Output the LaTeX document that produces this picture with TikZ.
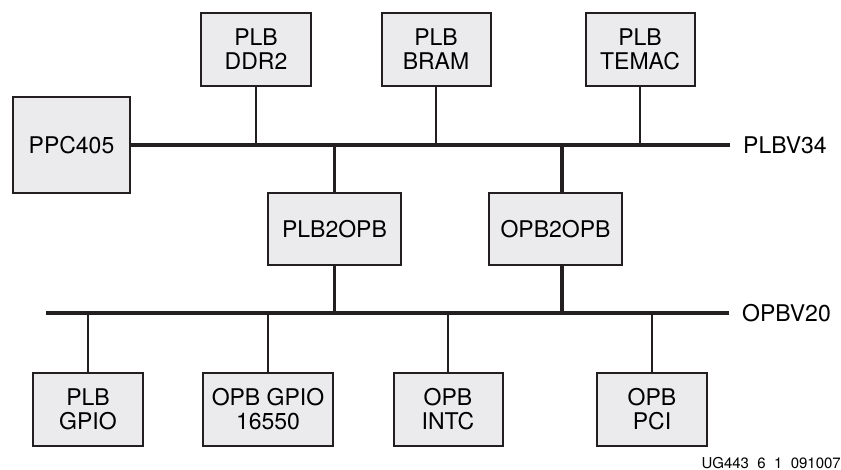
\documentclass[tikz,border=0pt]{standalone}
\usepackage{fontspec}
\setmainfont{TeX Gyre Heros}
\definecolor{boxfill}{RGB}{235,235,237}
\definecolor{linecol}{RGB}{35,31,32}
\begin{document}
\begin{tikzpicture}[x=1pt, y=-1pt,
  core/.style={draw=linecol, line width=2pt, fill=boxfill, inner sep=0pt, align=center, font=\fontsize{23}{24}\selectfont},
  busline/.style={draw=linecol, line width=4pt},
  stub/.style={draw=linecol, line width=1.7pt},
  bridge/.style={draw=linecol, line width=3.6pt},
  buslabel/.style={anchor=west, inner sep=0pt, font=\fontsize{23}{24}\selectfont}]
\useasboundingbox (0,0) rectangle (841,470);
% processor and PLB peripherals
\node (ppc) [core, minimum width=117pt, minimum height=96pt] at (71.5,145) {PPC405};
\node (ddr) [core, minimum width=110pt, minimum height=73pt] at (256,49.5) {PLB\\DDR2};
\node (bram) [core, minimum width=109pt, minimum height=73pt] at (436,49.5) {PLB\\BRAM};
\node (temac) [core, minimum width=109pt, minimum height=73pt] at (640,49.5) {PLB\\TEMAC};
% bridges
\node (plb2opb) [core, minimum width=133pt, minimum height=72pt] at (334.5,229) {PLB2OPB};
\node (opb2opb) [core, minimum width=133pt, minimum height=72pt] at (555.5,229) {OPB2OPB};
% OPB peripherals
\node (plbgpio) [core, minimum width=110pt, minimum height=73pt] at (88,409.5) {PLB\\GPIO};
\node (opbgpio) [core, minimum width=130pt, minimum height=73pt] at (268,409.5) {OPB GPIO\\16550};
\node (intc) [core, minimum width=109pt, minimum height=73pt] at (448,409.5) {OPB\\INTC};
\node (pci) [core, minimum width=110pt, minimum height=73pt] at (652,409.5) {OPB\\PCI};
% bus ends and labels
\coordinate (plbend) at (730,145);
\coordinate (opbstart) at (46,313);
\coordinate (opbend) at (729,313);
\node (plbv) [buslabel] at (743,145) {PLBV34};
\node (opbv) [buslabel] at (742,313) {OPBV20};
\node (figid) [anchor=base east, inner sep=0pt, font=\fontsize{15}{17}\selectfont] at (841,468) {UG443\ \ 6\ \ 1\ \ 091007};
% buses
\draw[busline] (ppc.east) -- (plbend);
\draw[busline] (opbstart) -- (opbend);
% stubs
\draw[stub] (ddr) -- (ddr |- plbend);
\draw[stub] (bram) -- (bram |- plbend);
\draw[stub] (temac) -- (temac |- plbend);
\draw[stub] (plbgpio) -- (plbgpio |- opbstart);
\draw[stub] (opbgpio) -- (opbgpio |- opbstart);
\draw[stub] (intc) -- (intc |- opbstart);
\draw[stub] (pci) -- (pci |- opbstart);
% bridge links
\draw[bridge] (plb2opb) -- (plb2opb |- plbend);
\draw[bridge] (plb2opb) -- (plb2opb |- opbstart);
\draw[bridge] ([xshift=6.5pt]opb2opb.north) -- ([xshift=6.5pt]opb2opb.north |- plbend);
\draw[bridge] ([xshift=6.5pt]opb2opb.south) -- ([xshift=6.5pt]opb2opb.south |- opbstart);
\end{tikzpicture}
\end{document}
